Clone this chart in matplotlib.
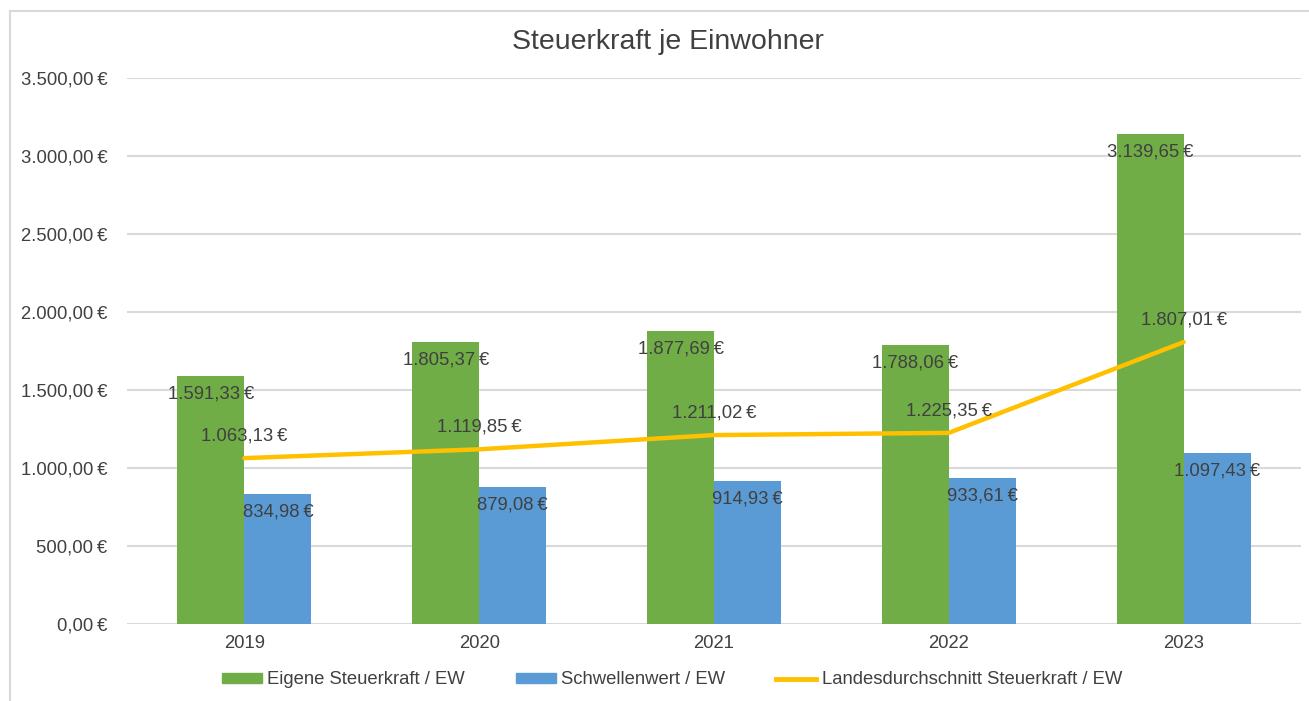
import matplotlib
matplotlib.use("Agg")
import matplotlib.pyplot as plt
import numpy as np
from matplotlib.patches import Patch
from matplotlib.lines import Line2D

years = ["2019", "2020", "2021", "2022", "2023"]
eigene = [1591.33, 1805.37, 1877.69, 1788.06, 3139.65]
schwelle = [834.98, 879.08, 914.93, 933.61, 1097.43]
landes = [1063.13, 1119.85, 1211.02, 1225.35, 1807.01]
yticks = [0, 500, 1000, 1500, 2000, 2500, 3000, 3500]

GREEN = "#70AD47"
BLUE = "#5B9BD5"
ORANGE = "#FFC000"
TXT = "#404040"
GRID = "#D9D9D9"

plt.rcParams['font.family'] = ['Liberation Sans', 'DejaVu Sans']

def eur(v):
    s = f"{v:,.2f}"
    s = s.replace(",", "X").replace(".", ",").replace("X", ".")
    return s + "\u2009€"

W, H = 1309, 701
fig = plt.figure(figsize=(W / 100, H / 100), dpi=100)
ax = fig.add_axes([127 / W, 1 - 624 / H, (1301 - 127) / W, (624 - 78) / H])

x = np.arange(len(years))
bw = 0.285
ax.bar(x - bw / 2, eigene, bw, color=GREEN, zorder=2)
ax.bar(x + bw / 2, schwelle, bw, color=BLUE, zorder=2)
ax.plot(x, landes, color=ORANGE, lw=3.2, zorder=3, solid_capstyle='round')

fs = 13.3
for i in range(len(years)):
    ax.annotate(eur(eigene[i]), (x[i] - bw / 2, eigene[i]), xytext=(0, -18), textcoords='offset pixels',
                ha='center', va='center', fontsize=fs, color=TXT, zorder=4)
    ax.annotate(eur(schwelle[i]), (x[i] + bw / 2, schwelle[i]), xytext=(0, -18), textcoords='offset pixels',
                ha='center', va='center', fontsize=fs, color=TXT, zorder=4)
    ax.annotate(eur(landes[i]), (x[i], landes[i]), xytext=(0, 22), textcoords='offset pixels',
                ha='center', va='center', fontsize=fs, color=TXT, zorder=4)

ax.set_xlim(-0.5, len(years) - 0.5)
ax.set_ylim(0, 3500)
ax.set_yticks(yticks)
ax.set_yticklabels([eur(v) for v in yticks])
ax.set_xticks(x)
ax.set_xticklabels(years)
ax.tick_params(axis='both', length=0, labelsize=fs, labelcolor=TXT)
ax.tick_params(axis='y', pad=14)
ax.tick_params(axis='x', pad=8)
ax.yaxis.grid(True, color=GRID, lw=1.5, zorder=0)
ax.set_axisbelow(True)
for s in ax.spines.values():
    s.set_visible(False)

fig.text(668 / W, 1 - 42 / H, "Steuerkraft je Einwohner", ha='center', va='center', fontsize=20.5, color=TXT)

handles = [Patch(color=GREEN), Patch(color=BLUE), Line2D([], [], color=ORANGE, lw=3.5)]
labels = ["Eigene Steuerkraft / EW", "Schwellenwert / EW", "Landesdurchschnitt Steuerkraft / EW"]
fig.legend(handles, labels, ncol=3, loc='center', bbox_to_anchor=(672 / W, 1 - 680 / H), frameon=False,
           fontsize=fs, labelcolor=TXT, handlelength=2.16, handleheight=0.45, handletextpad=0.3,
           columnspacing=2.75)

# chart border (left and top)
fig.add_artist(Line2D([10 / W, 10 / W], [0, 1 - 11 / H], color=GRID, lw=1.5))
fig.add_artist(Line2D([10 / W, 1], [1 - 11 / H, 1 - 11 / H], color=GRID, lw=1.5))

fig.savefig("out.png", dpi=100)
